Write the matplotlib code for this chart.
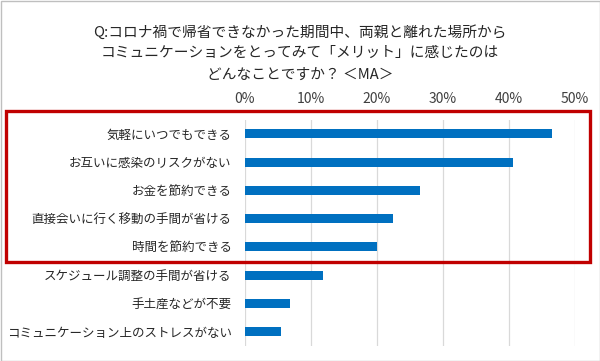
import matplotlib
matplotlib.use("Agg")
import matplotlib.pyplot as plt
from matplotlib.patches import Rectangle

plt.rcParams['font.family'] = ['Noto Sans CJK JP', 'DejaVu Sans']

categories = [
    "気軽にいつでもできる",
    "お互いに感染のリスクがない",
    "お金を節約できる",
    "直接会いに行く移動の手間が省ける",
    "時間を節約できる",
    "スケジュール調整の手間が省ける",
    "手土産などが不要",
    "コミュニケーション上のストレスがない",
]
values = [46.5, 40.6, 26.6, 22.5, 20.1, 11.9, 6.8, 5.5]
ticks = [0, 10, 20, 30, 40, 50]
tick_labels = ["0%", "10%", "20%", "30%", "40%", "50%"]
title_lines = [
    "Q:コロナ禍で帰省できなかった期間中、両親と離れた場所から",
    "コミュニケーションをとってみて「メリット」に感じたのは",
    "どんなことですか？ ＜MA＞",
]

fig = plt.figure(figsize=(6.0, 3.61), dpi=100)
fig.patch.set_facecolor("white")
ax = fig.add_axes([0.408, 0.042, 0.55, 0.626])

y = list(range(len(categories)))
ax.barh(y, values, height=0.32, color="#0070C0", zorder=3)
ax.set_ylim(len(categories) - 0.5, -0.5)
ax.set_xlim(0, 50)
ax.set_yticks(y)
ax.set_yticklabels(categories, fontsize=9, color="#262626")
ax.set_xticks(ticks)
ax.set_xticklabels(tick_labels, fontsize=10, color="#404040")
ax.xaxis.tick_top()
ax.tick_params(axis="both", length=0)
ax.tick_params(axis="y", pad=9.5)
ax.tick_params(axis="x", pad=10)
ax.grid(axis="x", color="#D9D9D9", linewidth=0.9, zorder=0)
for s in ax.spines.values():
    s.set_visible(False)

ys = [1 - 32 / 361, 1 - 53 / 361, 1 - 75 / 361]
for t, yy in zip(title_lines, ys):
    fig.text(0.5, yy, t, ha="center", va="center", fontsize=10.6, color="#262626")

# red highlight box
fig.patches.append(Rectangle((5.5 / 600, 1 - 262 / 361), 584.5 / 600, 151.5 / 361,
                             transform=fig.transFigure, fill=False,
                             edgecolor="#C00000", linewidth=2.4, zorder=10))
# outer grey border
fig.patches.append(Rectangle((0.5 / 600, 0.5 / 361), 599 / 600, 360 / 361,
                             transform=fig.transFigure, fill=False,
                             edgecolor="#BFBFBF", linewidth=1.0, zorder=10))

fig.savefig("out.png", dpi=100)
